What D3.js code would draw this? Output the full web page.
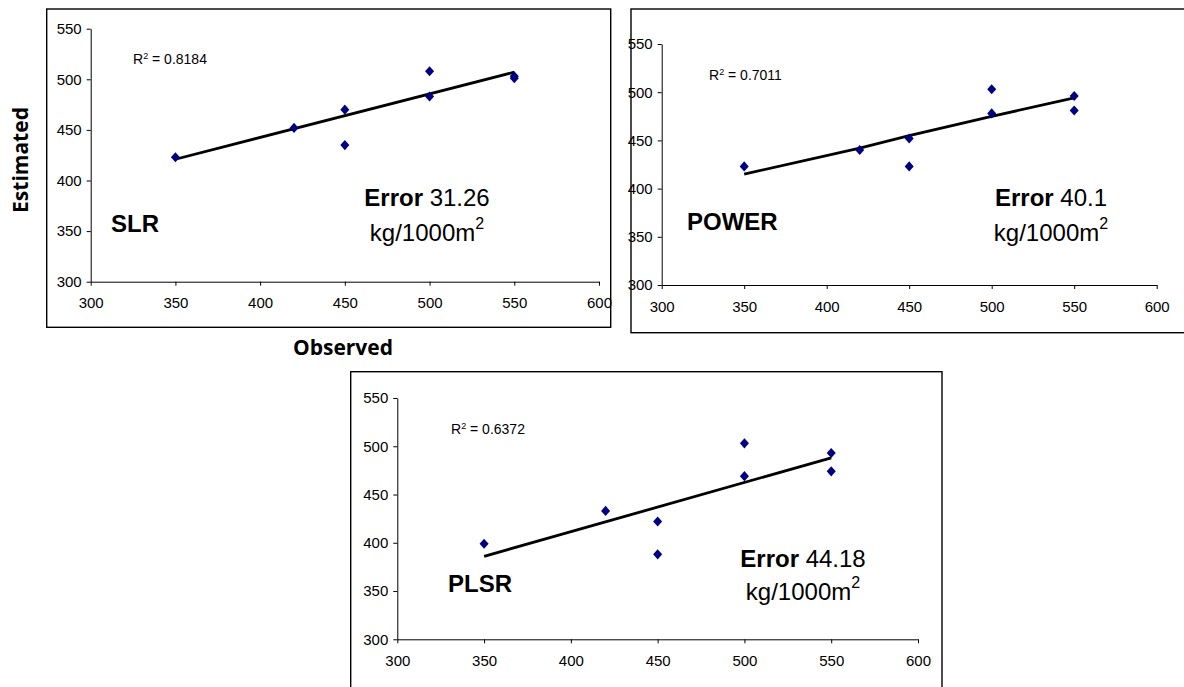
<!DOCTYPE html>
<html>
<head>
<meta charset="utf-8">
<script src="https://cdn.jsdelivr.net/npm/d3@7"></script>
<style>
  html, body { margin: 0; padding: 0; background: #fff; }
  svg { display: block; }
  .tick text { font-family: "Liberation Sans Narrow", "Arial Narrow", "Liberation Sans", sans-serif; font-size: 15px; fill: #000; }
  .domain, .tick line { stroke: #000; stroke-width: 1; }
</style>
</head>
<body>
<script>
// ---- data ----
const xTicks = [300, 350, 400, 450, 500, 550, 600];
const yTicks = [300, 350, 400, 450, 500, 550];
const observed = [350, 420, 450, 450, 500, 500, 550, 550];
const estimatedSLR   = [423, 452, 470, 435, 508, 483, 503, 501];
const estimatedPOWER = [423, 440, 452, 423, 503, 478, 496, 481];
const estimatedPLSR  = [399, 433, 422, 388, 503, 469, 493, 474];
const trendXSLR = [350, 550];            const trendYSLR = [421, 507];
const trendXPOWER = [350, 420, 450, 500, 550]; const trendYPOWER = [415, 442, 455, 475, 494];
const trendXPLSR = [350, 550];           const trendYPLSR = [386, 488];
const methods = ["SLR", "POWER", "PLSR"];
const r2Values = ["0.8184", "0.7011", "0.6372"];
const errorValues = ["31.26", "40.1", "44.18"];
const errorUnit = "kg/1000m";
const xTitle = "Observed";
const yTitle = "Estimated";

// ---- layout ----
const W = 1184, H = 687;
const panels = [
  { est: estimatedSLR, tx: trendXSLR, ty: trendYSLR,
    box: [46.7, 9, 610.7, 327.3], xr: [90.7, 599], yr: [281.7, 28.7],
    r2: [133, 64], method: [111, 232], err: [427, 206, 241] },
  { est: estimatedPOWER, tx: trendXPOWER, ty: trendYPOWER,
    box: [631, 9, 1192, 332.7], xr: [661.7, 1156.7], yr: [285, 44],
    r2: [709, 80], method: [687, 230], err: [1051, 206, 241] },
  { est: estimatedPLSR, tx: trendXPLSR, ty: trendYPLSR,
    box: [350.7, 371.7, 942, 700], xr: [397.3, 918], yr: [639.3, 398],
    r2: [451, 434], method: [448, 592], err: [803, 567, 600] }
];

const svg = d3.select("body").append("svg").attr("width", W).attr("height", H);

panels.forEach((p, i) => {
  const g = svg.append("g");
  g.append("rect")
    .attr("x", p.box[0]).attr("y", p.box[1])
    .attr("width", p.box[2] - p.box[0]).attr("height", p.box[3] - p.box[1])
    .attr("fill", "#fff").attr("stroke", "#000").attr("stroke-width", 1.4);

  const x = d3.scaleLinear().domain([300, 600]).range(p.xr);
  const y = d3.scaleLinear().domain([300, 550]).range(p.yr);

  g.append("g").attr("transform", `translate(0,${p.yr[0]})`)
    .call(d3.axisBottom(x).tickValues(xTicks).tickSize(4).tickSizeOuter(0).tickPadding(12).tickFormat(d3.format("d")));
  g.append("g").attr("transform", `translate(${p.xr[0]},0)`)
    .call(d3.axisLeft(y).tickValues(yTicks).tickSize(4).tickSizeOuter(0).tickPadding(5).tickFormat(d3.format("d")));

  // trend line
  const line = d3.line().x(d => x(d[0])).y(d => y(d[1]));
  g.append("path").datum(p.tx.map((v, k) => [v, p.ty[k]]))
    .attr("d", line).attr("fill", "none").attr("stroke", "#000").attr("stroke-width", 2.8);

  // markers
  const sym = d3.symbol().type(d3.symbolDiamond2).size(52);
  g.selectAll("path.pt").data(observed.map((v, k) => [v, p.est[k]])).join("path")
    .attr("class", "pt")
    .attr("d", sym)
    .attr("transform", d => `translate(${x(d[0])},${y(d[1])}) scale(1,1.12)`)
    .attr("fill", "#000080");

  // R² label
  const r2 = g.append("text").attr("x", p.r2[0]).attr("y", p.r2[1])
    .style("font-family", '"Liberation Sans Narrow","Arial Narrow","Liberation Sans",sans-serif')
    .style("font-size", "14px");
  r2.append("tspan").text("R");
  r2.append("tspan").attr("dy", -5).style("font-size", "9px").text("2");
  r2.append("tspan").attr("dy", 5).text(" = " + r2Values[i]);

  // method label
  g.append("text").attr("x", p.method[0]).attr("y", p.method[1])
    .style("font-family", '"Liberation Sans", Arial, sans-serif')
    .style("font-size", "24px").style("font-weight", "bold").text(methods[i]);

  // error label
  const e1 = g.append("text").attr("x", p.err[0]).attr("y", p.err[1]).attr("text-anchor", "middle")
    .style("font-family", '"Liberation Sans", Arial, sans-serif').style("font-size", "24px");
  e1.append("tspan").style("font-weight", "bold").text("Error");
  e1.append("tspan").text(" " + errorValues[i]);
  const e2 = g.append("text").attr("x", p.err[0]).attr("y", p.err[2]).attr("text-anchor", "middle")
    .style("font-family", '"Liberation Sans", Arial, sans-serif').style("font-size", "24px");
  e2.append("tspan").text(errorUnit);
  e2.append("tspan").attr("dy", -12).style("font-size", "16px").text("2");
});

// axis titles
svg.append("text").attr("x", 343).attr("y", 355).attr("text-anchor", "middle")
  .style("font-family", '"Open Sans", sans-serif').style("font-size", "21px").style("font-weight", "bold")
  .text(xTitle);
svg.append("text").attr("transform", "translate(28,160) rotate(-90)").attr("text-anchor", "middle")
  .style("font-family", '"Open Sans", sans-serif').style("font-size", "21px").style("font-weight", "bold")
  .text(yTitle);
</script>
</body>
</html>
